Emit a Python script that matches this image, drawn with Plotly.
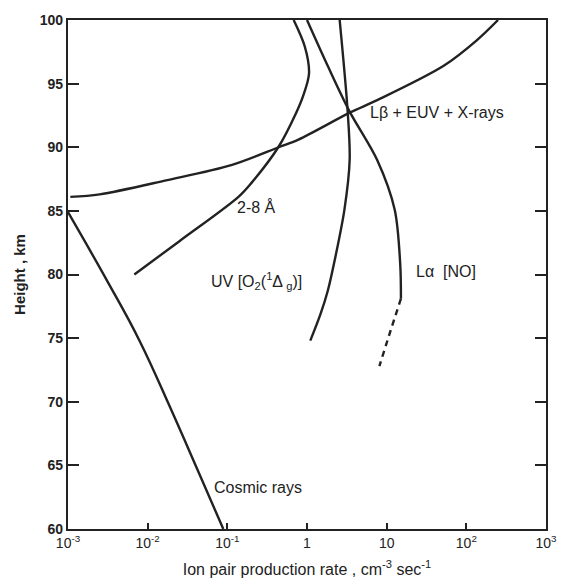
import plotly.graph_objects as go

# Ion pair production rate (cm^-3 s^-1) versus height (km) for each ionizing source
cosmic_height = [84.9, 79.5, 74.8, 69.6, 64.4, 60.0]
cosmic_rate = [1.0e-3, 3.1e-3, 7.9e-3, 1.9e-2, 4.4e-2, 8.9e-2]

lbeta_height = [86.1, 86.3, 87.4, 88.6, 90.0, 90.6, 92.7, 93.7, 96.4, 98.4, 100.0]
lbeta_rate = [1.07e-3, 2.5e-3, 1.7e-2, 0.112, 0.44, 0.78, 3.4, 7.6, 52.0, 135.0, 250.0]

xray_height = [80.0, 82.6, 86.1, 87.2, 90.0, 92.7, 94.0, 95.8, 97.9, 100.0]
xray_rate = [0.0068, 0.0248, 0.138, 0.201, 0.436, 0.73, 0.89, 1.06, 0.94, 0.68]

uv_height = [100.0, 92.8, 89.0, 85.1, 81.2, 78.7, 76.9, 74.8]
uv_rate = [2.57, 3.24, 3.43, 2.95, 2.24, 1.82, 1.48, 1.10]

lalpha_height = [100.0, 96.3, 92.8, 89.0, 85.1, 80.8, 78.1]
lalpha_rate = [1.0, 1.85, 3.43, 7.6, 12.6, 14.8, 15.1]

lalpha_ext_height = [78.1, 75.2, 72.8]
lalpha_ext_rate = [15.1, 10.7, 8.1]

x_tickvals = [1e-3, 1e-2, 1e-1, 1, 10, 100, 1000]
x_ticktext = ["10<sup>-3</sup>", "10<sup>-2</sup>", "10<sup>-1</sup>", "1", "10",
              "10<sup>2</sup>", "10<sup>3</sup>"]
y_tickvals = [60, 65, 70, 75, 80, 85, 90, 95, 100]

INK = "#222222"
FONT = "Liberation Sans"

fig = go.Figure()

def curve(x, y, dash="solid", smoothing=0.9):
    fig.add_trace(go.Scatter(
        x=x, y=y, mode="lines",
        line=dict(color=INK, width=2.4, dash=dash, shape="spline", smoothing=smoothing),
        showlegend=False, hoverinfo="skip"))

curve(cosmic_rate, cosmic_height, smoothing=1.2)
curve(lbeta_rate, lbeta_height)
curve(xray_rate, xray_height)
curve(uv_rate, uv_height)
curve(lalpha_rate, lalpha_height)
curve(lalpha_ext_rate, lalpha_ext_height, dash="6px,5px")

# Curve labels; x positions are given as log10 of the rate (log axis)
labels = [
    (-0.63, 85.3, "2-8 Å", "center"),
    (-0.63, 79.5, "UV [O<sub>2</sub>(<sup>1</sup>Δ<sub> g</sub>)]", "center"),
    (0.76, 92.7, "Lβ + EUV + X-rays", "left"),
    (1.34, 80.2, "Lα  [NO]", "left"),
    (-1.19, 63.3, "Cosmic rays", "left"),
]
for lx, ly, txt, anchor in labels:
    fig.add_annotation(x=lx, y=ly, text=txt, showarrow=False, xanchor=anchor,
                       yanchor="middle", xref="x", yref="y",
                       font=dict(family=FONT, size=16, color=INK))

fig.update_xaxes(
    type="log", range=[-3, 3], tickvals=x_tickvals, ticktext=x_ticktext,
    ticks="inside", ticklen=6, tickwidth=1.5, tickcolor=INK,
    showline=True, linewidth=2.2, linecolor=INK, mirror=True,
    showgrid=False, zeroline=False,
    tickfont=dict(family=FONT, size=14, color=INK),
    title=dict(text="Ion pair production rate , cm<sup>-3</sup> sec<sup>-1</sup>",
               font=dict(family=FONT, size=16, color=INK), standoff=14),
)
fig.update_yaxes(
    range=[60, 100], tickvals=y_tickvals,
    ticks="inside", ticklen=11, tickwidth=1.5, tickcolor=INK,
    showline=True, linewidth=2.2, linecolor=INK, mirror="ticks",
    showgrid=False, zeroline=False,
    tickfont=dict(family=FONT, size=14, color=INK, weight="bold"),
    title=dict(text="<b>Height , km</b>",
               font=dict(family=FONT, size=15, color=INK), standoff=10),
)

fig.update_layout(
    width=569, height=588,
    margin=dict(l=68, r=19, t=16, b=58),
    paper_bgcolor="white", plot_bgcolor="white",
    font=dict(family=FONT, color=INK),
)

fig.write_html("out.html")
